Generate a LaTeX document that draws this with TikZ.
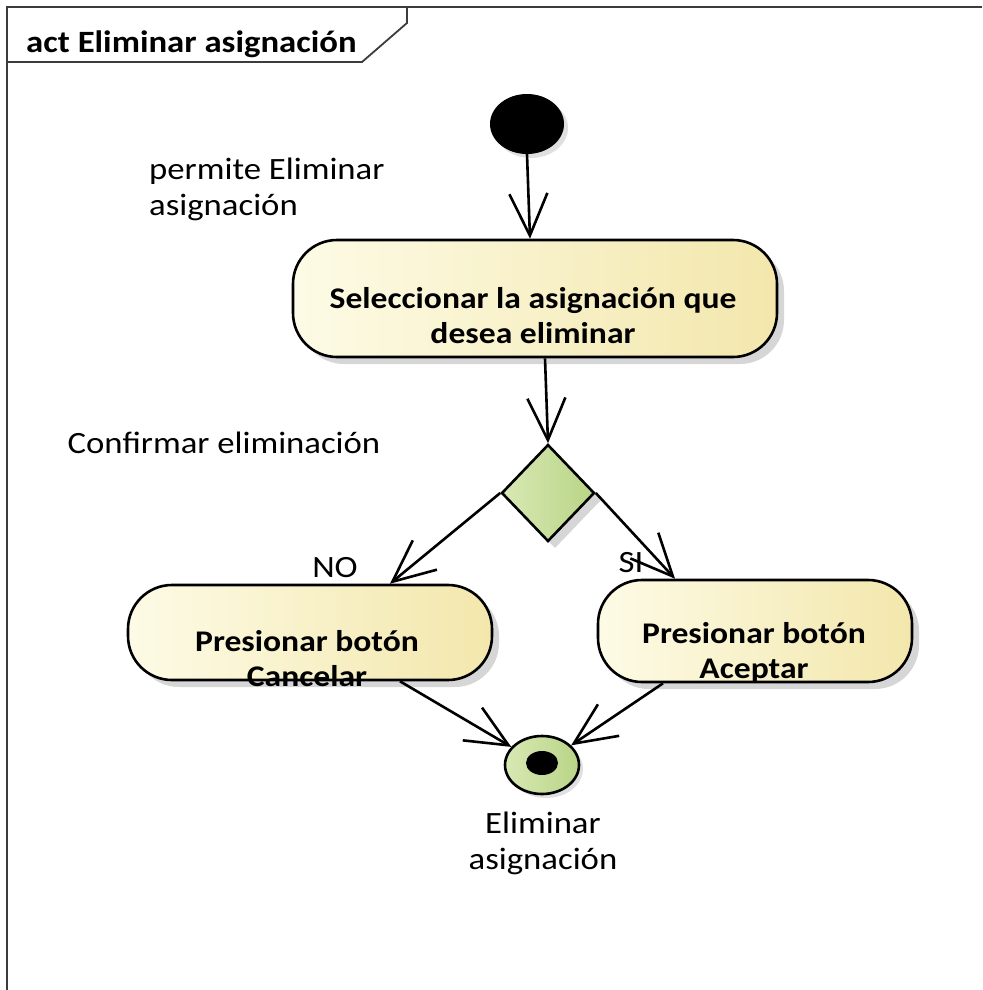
\documentclass[tikz,border=0pt]{standalone}
\usepackage{fontspec}
\setmainfont{Carlito}[FakeStretch=1.12]
\usetikzlibrary{arrows.meta,shapes.geometric,shadows,positioning}
\definecolor{actL}{HTML}{FDFBE6}
\definecolor{actR}{HTML}{F3E7AC}
\definecolor{decL}{HTML}{D8E9B4}
\definecolor{decR}{HTML}{B9D486}
\definecolor{frameC}{HTML}{3C3C3C}
\tikzset{
  action/.style={
    shape = rectangle,
    rounded corners = 44pt,
    draw,
    line width = 2.6pt,
    left color = actL,
    right color = actR,
    inner sep = 0pt,
    drop shadow = {shadow xshift=7pt, shadow yshift=-7pt, fill=black!16, opacity=1}
  },
}
\tikzset{
  decision/.style={
    shape = diamond,
    draw,
    line width = 2.6pt,
    left color = decL,
    right color = decR,
    inner sep = 0pt,
    minimum width = 93pt,
    minimum height = 97pt,
    drop shadow = {shadow xshift=7pt, shadow yshift=-7pt, fill=black!16, opacity=1}
  },
}
\tikzset{
  initial/.style={
    shape = ellipse,
    fill = black,
    inner sep = 0pt,
    minimum width = 74pt,
    minimum height = 60pt,
    drop shadow = {shadow xshift=4pt, shadow yshift=-4pt, fill=black!12, opacity=1}
  },
  final/.style={
    shape = ellipse,
    draw,
    line width = 2.6pt,
    left color = decL,
    right color = decR,
    inner sep = 0pt,
    minimum width = 74pt,
    minimum height = 58pt,
    drop shadow = {shadow xshift=4pt, shadow yshift=-4pt, fill=black!12, opacity=1}
  },
  finaldot/.style={
    shape = ellipse,
    fill = black,
    inner sep = 0pt,
    minimum width = 32pt,
    minimum height = 24pt
  },
  flow/.style={
    line width = 2.6pt,
    -{Straight Barb[length=42pt, width=38pt, line width=2.6pt]}
  },
  frame/.style={
    draw = frameC,
    line width = 1.8pt
  },
  acttext/.style={
    font = \bfseries\fontsize{30}{35}\selectfont,
    align = center,
    inner sep = 0pt
  },
  titletext/.style={
    font = \bfseries\fontsize{31}{36}\selectfont,
    inner sep = 0pt
  },
  note/.style={
    font = \fontsize{31}{36}\selectfont,
    inner sep = 0pt
  }
}

\begin{document}
\begin{tikzpicture}[x=1pt, y=-1pt]
    \useasboundingbox (0,0) rectangle (982,990);
    % frame and tab
    \draw[frame] (7,990) -- (7,7) -- (982,7);
    \draw[frame] (7,62) -- (362,62) -- (407,23) -- (407,7);
    \node[titletext, anchor=west] (title) at (26,44) {act Eliminar asignación};

    % nodes
    \node[initial] (start) at (527,124) {};
    \node[action, minimum width=484pt, minimum height=117pt] (sel) at (535,298.5) {};
    \node[acttext] (seltext) at (533,316) {Seleccionar la asignación que\\desea eliminar};
    \node[decision] (dec) at (548,493) {};
    \node[action, minimum width=364pt, minimum height=95pt] (cancel) at (310,632.5) {};
    \node[acttext] (canceltext) at (307,659) {Presionar botón\\Cancelar};
    \node[action, minimum width=314pt, minimum height=102pt] (accept) at (755,631) {};
    \node[acttext] (accepttext) at (754,653) {Presionar botón\\Aceptar};
    \node[final] (fin) at (542,765) {};
    \node[finaldot] (findot) at (542,763) {};

    % texts
    \node[note, align=left, anchor=west] (permite) at (149,189) {permite Eliminar\\asignación};
    \node[note] (confirm) at (224,443) {Confirmar eliminación};
    \node[note] (no) at (335,568) {NO};
    \node[note] (si) at (631,563) {SI};
    \node[note, align=center] (finlabel) at (543,843) {Eliminar\\asignación};

    % connectors
    \draw[flow] (start.south) -- ([xshift=-5pt]sel.north);
    \draw[flow] ([xshift=10pt]sel.south) -- (dec.north);
    \draw[flow] (dec.west) -- ([xshift=80pt]cancel.north);
    \draw[flow] (dec.east) -- ([xshift=-80pt]accept.north);
    \draw[flow] ([xshift=90pt]cancel.south) -- (fin);
    \draw[flow] ([xshift=-92pt]accept.south) -- (fin);
\end{tikzpicture}
\end{document}
